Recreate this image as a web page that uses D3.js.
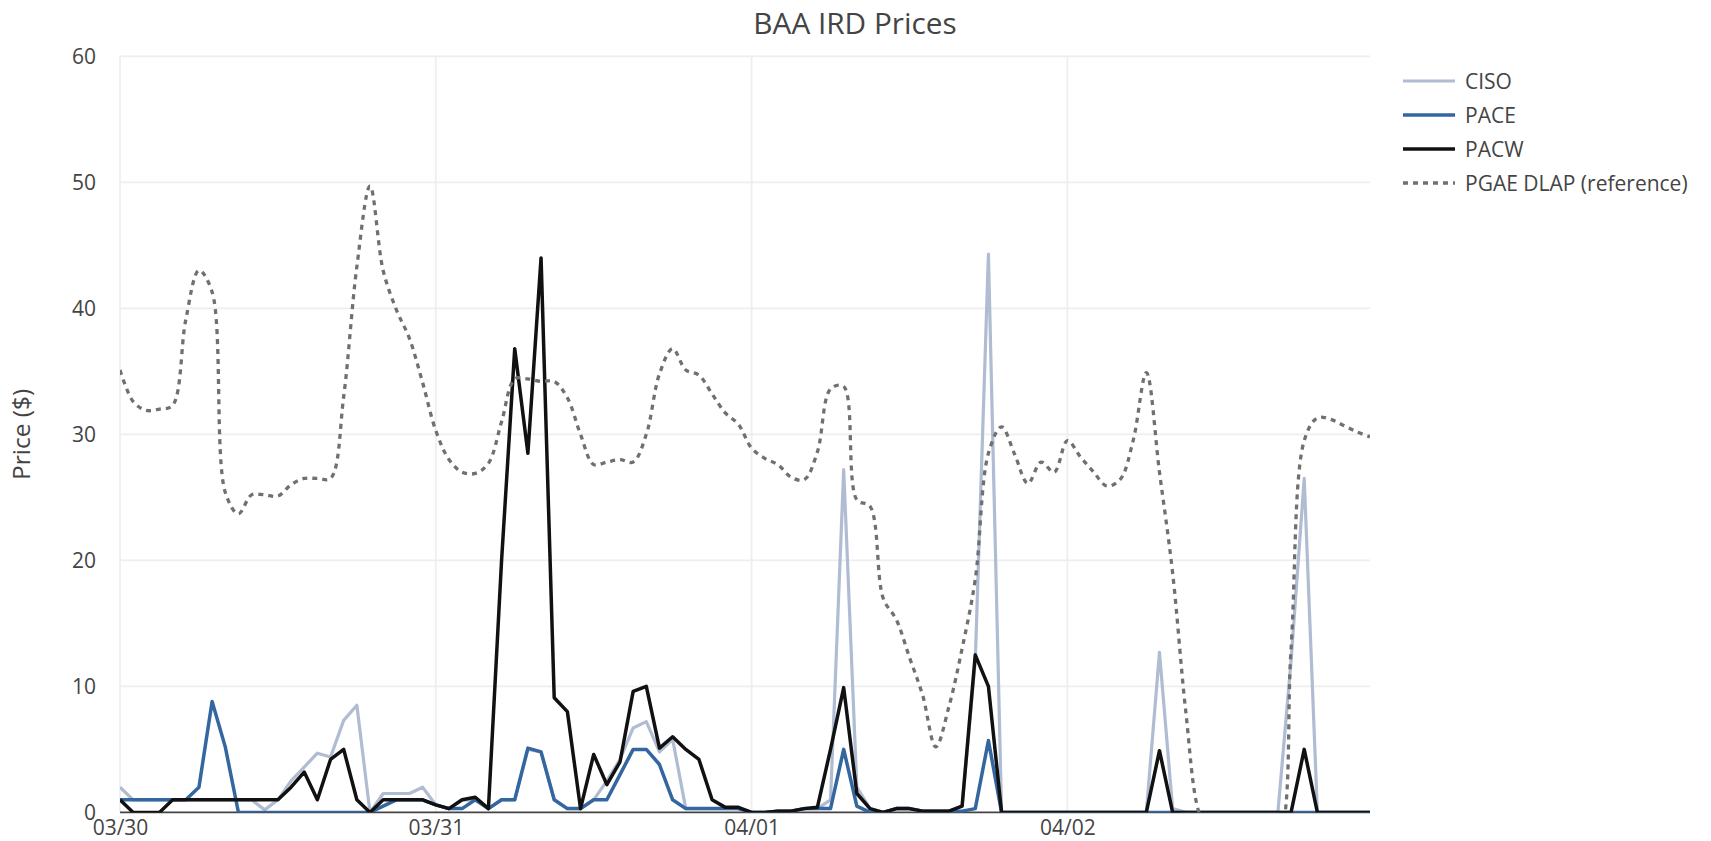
<!DOCTYPE html>
<html><head><meta charset="utf-8">
<script src="https://cdn.jsdelivr.net/npm/d3@7"></script>
<style>
body{margin:0;background:#fff;}
svg{display:block;font-family:"Open Sans",sans-serif;}
</style>
</head><body>
<svg id="c" width="1711" height="841"></svg>
<script>
// ---- data ----
const startHour = "2020-03-30 00:00";
const seriesNames = ["CISO", "PACE", "PACW", "PGAE DLAP (reference)"];
const yTicks = [0, 10, 20, 30, 40, 50, 60];

const ciso = [
 2.0, 1.0, 1.0, 1.0, 1.0, 1.0, 1.0, 1.0, 1.0, 1.0,
 1.0, 0.2, 1.0, 2.5, 3.6, 4.7, 4.4, 7.3, 8.5, 0,
 1.5, 1.5, 1.5, 2.0, 0.6, 0.3, 1.0, 1.0, 0.3, 1.0,
 1.0, 5.0, 4.8, 1.0, 0.3, 0.3, 1.0, 2.5, 4.2, 6.7,
 7.2, 4.8, 5.8, 0.3, 0.3, 0.3, 0.3, 0.3, 0, 0,
 0.1, 0.1, 0.3, 0.3, 1.0, 27.2, 2.0, 0.3, 0, 0.3,
 0.3, 0.1, 0.1, 0.1, 0.5, 12.0, 44.3, 0, 0, 0,
 0, 0, 0, 0, 0, 0, 0, 0, 0, 12.7,
 0.3, 0, 0, 0, 0, 0, 0, 0, 0, 12.0,
 26.5, 0, 0, 0, 0, 0
];
const pace = [
 1.0, 1.0, 1.0, 1.0, 1.0, 1.0, 2.0, 8.8, 5.2, 0,
 0, 0, 0, 0, 0, 0, 0, 0, 0, 0,
 0.5, 1.0, 1.0, 1.0, 0.6, 0.3, 0.3, 1.0, 0.3, 1.0,
 1.0, 5.1, 4.8, 1.0, 0.3, 0.3, 1.0, 1.0, 3.0, 5.0,
 5.0, 3.8, 1.0, 0.3, 0.3, 0.3, 0.3, 0.3, 0, 0,
 0.1, 0.1, 0.3, 0.3, 0.3, 5.0, 0.5, 0, 0, 0.3,
 0.3, 0.1, 0.1, 0.1, 0.1, 0.3, 5.7, 0, 0, 0,
 0, 0, 0, 0, 0, 0, 0, 0, 0, 0,
 0, 0, 0, 0, 0, 0, 0, 0, 0, 0,
 0, 0, 0, 0, 0, 0
];
const pacw = [
 1.0, 0, 0, 0, 1.0, 1.0, 1.0, 1.0, 1.0, 1.0,
 1.0, 1.0, 1.0, 2.0, 3.2, 1.0, 4.2, 5.0, 1.0, 0,
 1.0, 1.0, 1.0, 1.0, 0.6, 0.3, 1.0, 1.2, 0.3, 20.0,
 36.8, 28.5, 44.0, 9.1, 8.0, 0.3, 4.6, 2.2, 4.0, 9.6,
 10.0, 5.1, 6.0, 5.0, 4.2, 1.0, 0.4, 0.4, 0, 0,
 0.1, 0.1, 0.3, 0.4, 5.0, 9.9, 1.5, 0.3, 0, 0.3,
 0.3, 0.1, 0.1, 0.1, 0.5, 12.5, 10.0, 0, 0, 0,
 0, 0, 0, 0, 0, 0, 0, 0, 0, 4.9,
 0, 0, 0, 0, 0, 0, 0, 0, 0, 0,
 5.0, 0, 0, 0, 0, 0
];
const pgae = [
 35.1, 32.6, 31.9, 32.0, 32.3, 39.1, 43.0, 41.3, 25.4, 23.7,
 25.2, 25.2, 25.1, 26.0, 26.5, 26.5, 26.5, 33.0, 43.3, 49.7,
 43.0, 39.9, 37.6, 34.1, 30.3, 28.0, 27.0, 26.9, 27.7, 31.0,
 34.4, 34.4, 34.2, 34.2, 32.9, 30.0, 27.6, 27.8, 28.0, 27.8,
 30.0, 34.8, 36.8, 35.1, 34.7, 33.2, 31.7, 30.8, 28.9, 28.1,
 27.6, 26.6, 26.4, 28.6, 33.6, 33.8, 24.8, 24.3, 17.0, 15.3,
 12.3, 9.3, 5.2, 8.4, 13.0, 18.5, 28.5, 30.6, 28.4, 26.1,
 27.8, 27.0, 29.5, 28.2, 27.0, 25.9, 26.4, 29.5, 34.9, 27.0,
 19.0, 8.0, 0, -2.0, -2.0, -2.0, -2.0, -2.0, -2.0, 13.0,
 29.5, 31.3, 31.2, 30.7, 30.2, 29.8
];

// ---- layout ----
const W = 1711, H = 841;
const L = 120, R = 1370, T = 56.3, B = 812.4;
const svg = d3.select("#c");

const t0 = d3.timeParse("%Y-%m-%d %H:%M")(startHour);
const times = ciso.map((_, i) => d3.timeHour.offset(t0, i));

const x = d3.scaleTime().domain([times[0], times[times.length - 1]]).range([L, R]);
const y = d3.scaleLinear().domain([0, 60]).range([B, T]);

// grid
const grid = svg.append("g");
grid.selectAll(".vg").data(x.ticks(d3.timeDay.every(1))).join("line")
  .attr("x1", d => x(d)).attr("x2", d => x(d)).attr("y1", T).attr("y2", B)
  .attr("stroke", "#eeeeee").attr("stroke-width", 1.75);
grid.selectAll(".hg").data(yTicks.filter(v => v !== 0)).join("line")
  .attr("x1", L).attr("x2", R).attr("y1", d => y(d)).attr("y2", d => y(d))
  .attr("stroke", "#eeeeee").attr("stroke-width", 1.75);

// zero line
svg.append("line").attr("x1", L).attr("x2", R).attr("y1", y(0)).attr("y2", y(0))
  .attr("stroke", "#444").attr("stroke-width", 1.75);

// axes
const xAxis = svg.append("g").attr("transform", `translate(0,${B})`)
  .call(d3.axisBottom(x).ticks(d3.timeDay.every(1)).tickFormat(d3.timeFormat("%m/%d")).tickSize(0).tickPadding(10));
xAxis.select(".domain").remove();
xAxis.selectAll("text").attr("font-family", '"Open Sans",sans-serif').attr("font-size", 21).attr("fill", "#444")
  .attr("dy", null).attr("y", 23);

const yAxis = svg.append("g").attr("transform", `translate(${L},0)`)
  .call(d3.axisLeft(y).tickValues(yTicks).tickSize(0).tickPadding(24));
yAxis.select(".domain").remove();
yAxis.selectAll("text").attr("font-family", '"Open Sans",sans-serif').attr("font-size", 21).attr("fill", "#444");

// clip
svg.append("defs").append("clipPath").attr("id", "plotclip")
  .append("rect").attr("x", L).attr("y", T).attr("width", R - L).attr("height", B - T);

const series = [
  {name: seriesNames[0], values: ciso, color: "#b0bcd1", width: 3.2, dash: null, curve: d3.curveLinear},
  {name: seriesNames[1], values: pace, color: "#3466a0", width: 3.5, dash: null, curve: d3.curveLinear},
  {name: seriesNames[2], values: pacw, color: "#111111", width: 3.5, dash: null, curve: d3.curveLinear},
  {name: seriesNames[3], values: pgae, color: "#707070", width: 3.3, dash: "5,5", curve: d3.curveCatmullRom.alpha(0.5)}
];

const plot = svg.append("g").attr("clip-path", "url(#plotclip)");
series.forEach(s => {
  const line = d3.line().x((d, i) => x(times[i])).y(d => y(d)).curve(s.curve);
  plot.append("path").datum(s.values).attr("d", line)
    .attr("fill", "none").attr("stroke", s.color).attr("stroke-width", s.width)
    .attr("stroke-linejoin", "round")
    .attr("stroke-dasharray", s.dash);
});

// title
svg.append("text").attr("x", 855).attr("y", 34).attr("text-anchor", "middle")
  .attr("font-size", 29.75).attr("fill", "#444").text("BAA IRD Prices");

// y title
svg.append("text").attr("transform", `translate(30,${(T + B) / 2}) rotate(-90)`)
  .attr("text-anchor", "middle").attr("font-size", 24.5).attr("fill", "#444").text("Price ($)");

// legend
const lg = svg.append("g").attr("transform", "translate(1396,0)");
const rowY = [81, 115, 149, 183];
series.forEach((s, i) => {
  lg.append("line").attr("x1", 7).attr("x2", 59).attr("y1", rowY[i]).attr("y2", rowY[i])
    .attr("stroke", s.color).attr("stroke-width", s.width).attr("stroke-dasharray", s.dash);
  lg.append("text").attr("x", 69).attr("y", rowY[i]).attr("dy", "0.36em")
    .attr("font-size", 21).attr("fill", "#444").text(s.name);
});
</script>
</body></html>
